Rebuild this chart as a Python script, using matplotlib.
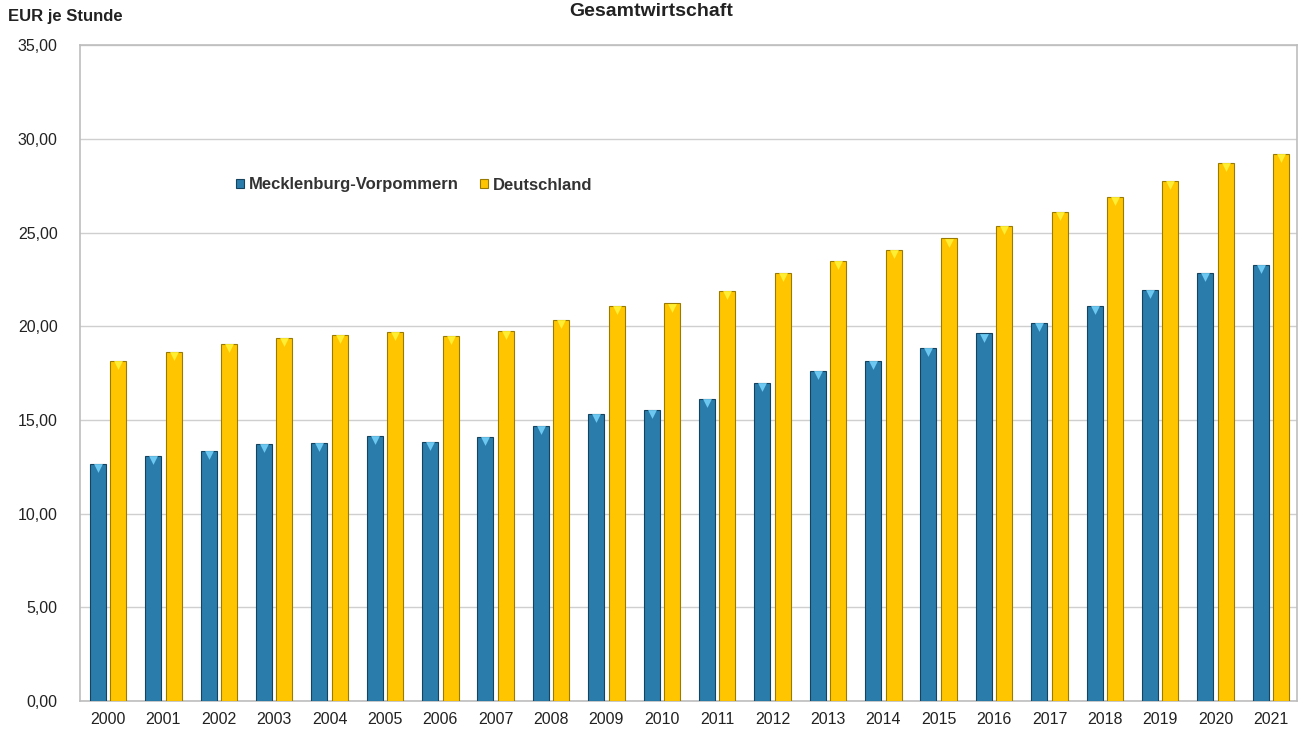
import numpy as np
import matplotlib
matplotlib.use('Agg')
import matplotlib.pyplot as plt
from matplotlib.ticker import FuncFormatter

plt.rcParams['font.family'] = ['Liberation Sans', 'DejaVu Sans']

years = [str(y) for y in range(2000, 2022)]
mv = [12.64, 13.07, 13.37, 13.73, 13.77, 14.14, 13.84, 14.09, 14.69, 15.33, 15.54,
      16.13, 16.97, 17.62, 18.16, 18.87, 19.62, 20.17, 21.07, 21.95, 22.83, 23.28]
de = [18.15, 18.65, 19.05, 19.4, 19.55, 19.70, 19.51, 19.74, 20.36, 21.07, 21.22,
      21.91, 22.85, 23.51, 24.08, 24.69, 25.34, 26.11, 26.93, 27.78, 28.70, 29.18]
labels = ['Mecklenburg-Vorpommern', 'Deutschland']

fig = plt.figure(figsize=(13.03, 7.31), dpi=100)
ax = fig.add_axes([0.0614, 0.041, 0.934, 0.897])

x = np.arange(len(years))
w = 0.29
off = 0.185

b1 = ax.bar(x - off, mv, w, color='#2A7DAB', edgecolor='#15435f', linewidth=0.8,
            label=labels[0], zorder=3)
b2 = ax.bar(x + off, de, w, color='#FFC600', edgecolor='#9a7a00', linewidth=0.8,
            label=labels[1], zorder=3)
# light caps on bar tops
ax.scatter(x - off, np.array(mv) - 0.22, marker='v', s=40, color='#6cc8f0', zorder=4, linewidths=0)
ax.scatter(x + off, np.array(de) - 0.22, marker='v', s=40, color='#ffee33', zorder=4, linewidths=0)

ax.set_ylim(0, 35)
ax.set_xlim(-0.506, 21.47)
ax.set_yticks(np.arange(0, 36, 5))
ax.yaxis.set_major_formatter(FuncFormatter(lambda v, p: f'{v:.2f}'.replace('.', ',')))
ax.set_xticks(x)
ax.set_xticklabels(years)
ax.tick_params(axis='both', length=0, labelsize=11.5, colors='#222222')
ax.tick_params(axis='y', pad=16)
ax.tick_params(axis='x', pad=8)
ax.grid(axis='y', color='#cfcfcf', linewidth=1, zorder=0)
for s in ax.spines.values():
    s.set_color('#bdbdbd')
    s.set_linewidth(1.2)

fig.text(8 / 1303, 1 - 17 / 731, 'EUR je Stunde', fontsize=12, fontweight='bold',
         color='#222222', ha='left', va='center')
fig.text(0.5, 1 - 12 / 731, 'Gesamtwirtschaft', fontsize=14, fontweight='bold',
         color='#222222', ha='center', va='center')

leg = fig.legend(handles=[b1, b2], loc='center left', bbox_to_anchor=(221 / 1303, 1 - 185 / 731),
                 ncol=2, frameon=False, handlelength=0.5, handleheight=0.5, handletextpad=0.25,
                 columnspacing=1.3, prop={'size': 12, 'weight': 'bold'})
for t in leg.get_texts():
    t.set_color('#333333')

fig.savefig('out.png', dpi=100)
